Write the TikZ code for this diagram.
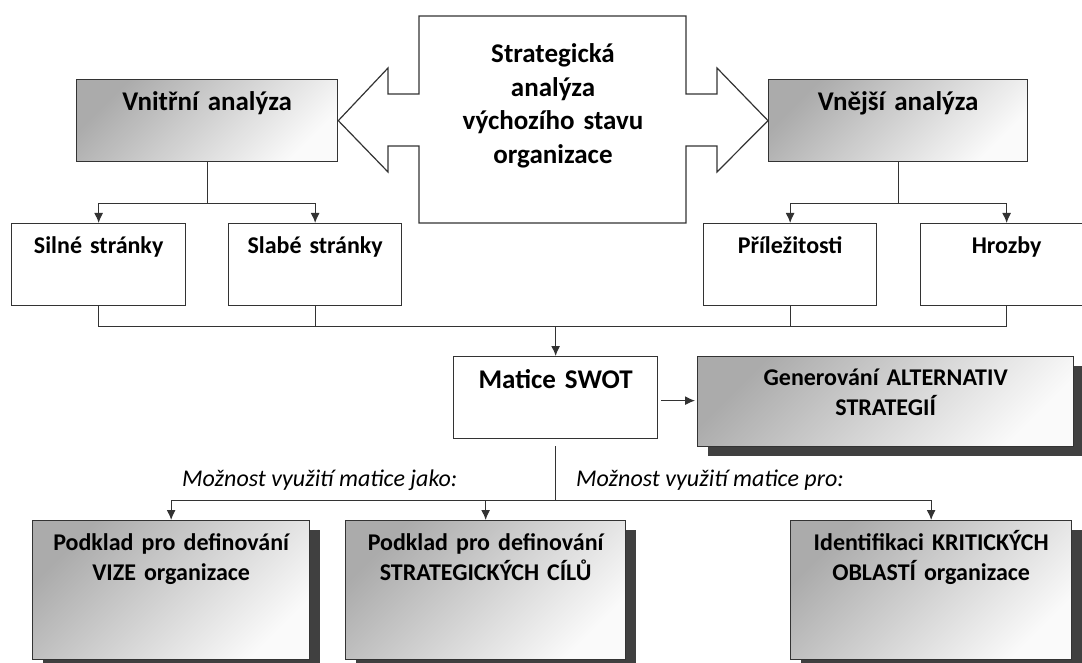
\documentclass[tikz,border=0pt]{standalone}
\usepackage{fontspec}
\setmainfont{Carlito}
\usetikzlibrary{arrows.meta,shadows}

\tikzset{
  box/.style={draw=black!80, line width=1.3pt, fill=white, inner sep=0pt,
    align=center, anchor=north west, font=\bfseries\fontsize{24}{29.5}\selectfont},
  bigbox/.style={box, font=\bfseries\fontsize{27}{33}\selectfont},
  greybox/.style={top color=black!33, bottom color=black!2, shading angle=45},
  shadowbox/.style={greybox, drop shadow={shadow xshift=10pt, shadow yshift=-9pt,
    fill=black!75, opacity=1, draw=none}},
  conn/.style={draw=black!80, line width=1.2pt},
  arr/.style={conn, -{Latex[length=10pt,width=9pt]}},
  note/.style={inner sep=0pt, anchor=base west, font=\itshape\fontsize{24}{29}\selectfont},
}

\begin{document}
\begin{tikzpicture}[x=1pt, y=-1pt]

\useasboundingbox (0,0) rectangle (1082,663);
\clip (0,0) rectangle (1082,663);

% Analyses
\node[bigbox, greybox, text width=261pt, text height=31pt, text depth=51pt] (vnitrni) at (76,79) {Vnitřní analýza};
\node[bigbox, greybox, text width=259pt, text height=31pt, text depth=51pt] (vnejsi) at (768,79) {Vnější analýza};

% Double arrow callout
\draw[conn, fill=white] (419,16) -- (686,16) -- (686,94) -- (717,94) -- (717,68)
  -- (vnejsi.west) -- (717,172) -- (717,146) -- (686,146) -- (686,223)
  -- (419,223) -- (419,146) -- (388,146) -- (388,172) -- (vnitrni.east)
  -- (388,68) -- (388,94) -- (419,94) -- cycle;
\node[font=\bfseries\fontsize{27}{33.5}\selectfont, text width=260pt, align=center,
      anchor=base, inner sep=0pt] (strat) at (553,63)
  {Strategická\\analýza\\výchozího stavu\\organizace};

% SWOT items
\node[box, text width=174pt, text height=30pt, text depth=52pt] (silne) at (11,223) {Silné stránky};
\node[box, text width=173pt, text height=30pt, text depth=52pt] (slabe) at (228,223) {Slabé stránky};
\node[box, text width=173pt, text height=30pt, text depth=52pt] (prilez) at (703,223) {Příležitosti};
\node[box, text width=172pt, text height=30pt, text depth=52pt] (hrozby) at (920,223) {Hrozby};

\draw[arr] (vnitrni.south) -- ++(0,41) -| (silne.north);
\draw[arr] (vnitrni.south) -- ++(0,41) -| (slabe.north);
\draw[arr] (vnejsi.south) -- ++(0,41) -| (prilez.north);
\draw[arr] (vnejsi.south) -- ++(0,41) -| (hrozby.north);

% Matrix
\node[bigbox, text width=204pt, text height=32pt, text depth=50pt] (matice) at (453,356) {Matice SWOT};
\node[box, shadowbox, text width=376pt, text height=29pt, text depth=61pt] (gen) at (697,356)
  {Generování ALTERNATIV\\STRATEGIÍ};

\draw[conn] (silne.south) -- ++(0,20) coordinate (collect) -| (hrozby.south);
\draw[conn] (slabe.south) -- ++(0,20);
\draw[conn] (prilez.south) -- ++(0,20);
\draw[arr] (collect -| matice.north) -- (matice.north);
\draw[arr, shorten <=3pt, shorten >=2pt] ([yshift=-3pt]matice.east) -- ([yshift=-3pt]matice.east -| gen.west);

% Uses of the matrix
\node[note] (jako) at (182,486) {Možnost využití matice jako:};
\node[note] (pro) at (576,486) {Možnost využití matice pro:};

\node[box, shadowbox, text width=277pt, text height=30pt, text depth=109pt] (vize) at (32,520)
  {Podklad pro definování\\VIZE organizace};
\node[box, shadowbox, text width=280pt, text height=30pt, text depth=109pt] (cile) at (345,520)
  {Podklad pro definování\\STRATEGICKÝCH CÍLŮ};
\node[box, shadowbox, text width=281pt, text height=30pt, text depth=109pt] (krit) at (790,520)
  {Identifikaci KRITICKÝCH\\OBLASTÍ organizace};

\draw[arr, shorten <=7pt] (matice.south) -- ++(0,61) -| (vize.north);
\draw[arr, shorten <=7pt] (matice.south) -- ++(0,61) -| (cile.north);
\draw[arr, shorten <=7pt] (matice.south) -- ++(0,61) -| (krit.north);

\end{tikzpicture}
\end{document}
